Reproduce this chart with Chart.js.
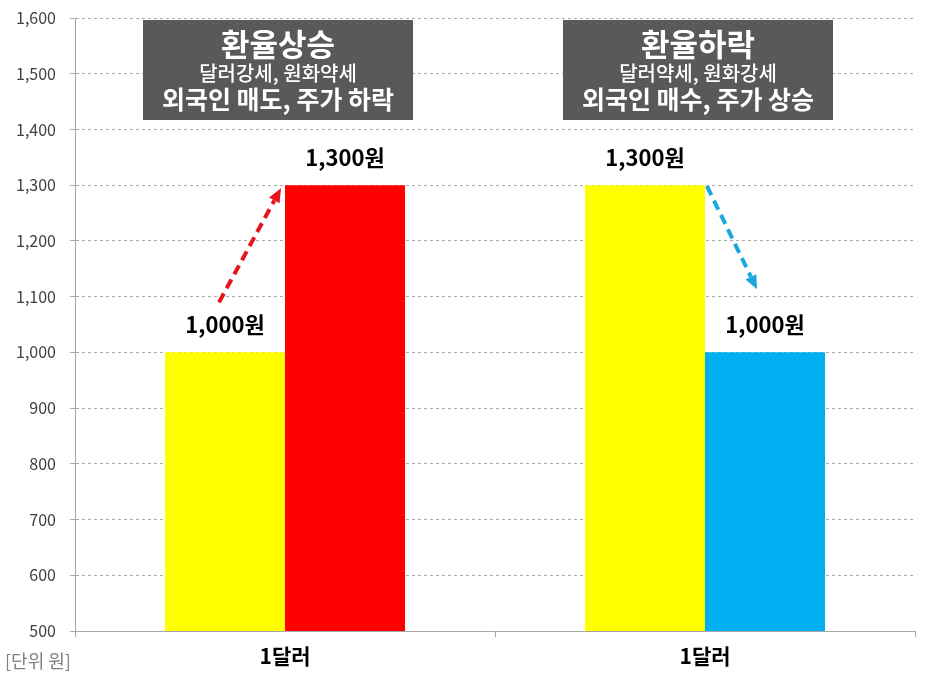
<!DOCTYPE html>
<html>
<head>
<meta charset="utf-8">
<script src="https://cdn.jsdelivr.net/npm/chart.js@4/dist/chart.umd.min.js"></script>
<style>
  body { margin: 0; background: #fff; }
  #wrap { width: 933px; height: 675px; }
</style>
</head>
<body>
<div id="wrap"><canvas id="myChart" width="933" height="675"></canvas></div>
<script>
// data
var categories = ['1달러', '1달러'];
var beforeValues = [1000, 1300];
var afterValues = [1300, 1000];
var afterColors = ['#ff0000', '#00b0f0'];
var yTicks = { min: 500, max: 1600, step: 100 };
var boxTitles = ['환율상승', '환율하락'];
var boxLine2 = ['달러강세, 원화약세', '달러약세, 원화강세'];
var boxLine3 = ['외국인 매도, 주가 하락', '외국인 매수, 주가 상승'];
var unitLabel = '[단위 원]';

var KR = '"Noto Sans CJK KR", "Noto Sans", sans-serif';

function fmt(v) { return v.toLocaleString('en-US'); }

function arrow(ctx, x1, y1, x2, y2, color) {
    var ang = Math.atan2(y2 - y1, x2 - x1);
    var head = 14, half = 6;
    var bx = x2 - head * Math.cos(ang), by = y2 - head * Math.sin(ang);
    ctx.save();
    ctx.strokeStyle = color;
    ctx.fillStyle = color;
    ctx.lineWidth = 4;
    ctx.setLineDash([10, 6]);
    ctx.beginPath();
    ctx.moveTo(x1, y1);
    ctx.lineTo(bx, by);
    ctx.stroke();
    ctx.setLineDash([]);
    ctx.beginPath();
    ctx.moveTo(x2, y2);
    ctx.lineTo(bx + half * Math.sin(ang), by - half * Math.cos(ang));
    ctx.lineTo(bx - half * Math.sin(ang), by + half * Math.cos(ang));
    ctx.closePath();
    ctx.fill();
    ctx.restore();
}

var overlay = {
    id: 'overlay',
    beforeDatasetsDraw: function(chart) {
        // solid y axis line (grid lines are dashed)
        var a = chart.chartArea, c = chart.ctx;
        c.save();
        c.strokeStyle = '#a6a6a6';
        c.lineWidth = 1;
        c.beginPath();
        c.moveTo(a.left + 0.5, a.top);
        c.lineTo(a.left + 0.5, a.bottom);
        c.stroke();
        c.restore();
    },
    afterDatasetsDraw: function(chart) {
        var ctx = chart.ctx;
        var y = chart.scales.y;
        var m0 = chart.getDatasetMeta(0).data;
        var m1 = chart.getDatasetMeta(1).data;

        // arrows
        arrow(ctx, m0[0].x - 6, y.getPixelForValue(beforeValues[0]) - 50,
              m1[0].x - m1[0].width / 2 - 4, m1[0].y + 3, '#e8141c');
        var left = m1[1].x - m1[1].width / 2;
        arrow(ctx, left + 2, m0[1].y + 1, left + 52, m1[1].y - 63, '#1aa7e0');

        // value labels
        ctx.save();
        ctx.fillStyle = '#000';
        ctx.font = 'bold 22px ' + KR;
        ctx.textAlign = 'center';
        ctx.textBaseline = 'middle';
        [m0, m1].forEach(function(meta, ds) {
            var vals = ds === 0 ? beforeValues : afterValues;
            meta.forEach(function(bar, i) {
                ctx.fillText(fmt(vals[i]) + '원', bar.x, bar.y - 28);
            });
        });

        // boxes
        var top = y.getPixelForValue(yTicks.max) + 2;
        for (var i = 0; i < categories.length; i++) {
            var cx = (m0[i].x + m1[i].x) / 2 - 7;
            ctx.fillStyle = '#595959';
            ctx.fillRect(cx - 135, top, 270, 100);
            ctx.fillStyle = '#fff';
            ctx.font = 'bold 31px ' + KR;
            ctx.fillText(boxTitles[i], cx, top + 24);
            ctx.font = '500 20px ' + KR;
            ctx.fillText(boxLine2[i], cx, top + 53);
            ctx.font = 'bold 25px ' + KR;
            ctx.fillText(boxLine3[i], cx, top + 79);
        }

        // unit
        ctx.fillStyle = '#7f7f7f';
        ctx.font = '18px ' + KR;
        ctx.textAlign = 'left';
        ctx.fillText(unitLabel, 5, 661);
        ctx.restore();
    }
};

var ctx = document.getElementById('myChart').getContext('2d');
var myChart = new Chart(ctx, {
    type: 'bar',
    data: {
        labels: categories,
        datasets: [{
            data: beforeValues,
            backgroundColor: '#ffff00'
        }, {
            data: afterValues,
            backgroundColor: afterColors
        }]
    },
    options: {
        responsive: false,
        animation: false,
        layout: { padding: { left: 0, right: 18, top: 18, bottom: 0 } },
        categoryPercentage: 240 / 420,
        barPercentage: 1,
        plugins: {
            legend: { display: false },
            tooltip: { enabled: false }
        },
        scales: {
            x: {
                afterFit: function(s) { s.height = 44; },
                grid: { drawOnChartArea: false, tickLength: 6, color: '#a6a6a6' },
                border: { color: '#a6a6a6' },
                ticks: {
                    color: '#000',
                    padding: 6,
                    font: { family: KR, size: 21, weight: 'bold' }
                }
            },
            y: {
                min: yTicks.min,
                max: yTicks.max,
                afterFit: function(s) {
                    s.width = 75;
                    s.paddingTop = 0;
                    s.paddingBottom = 0;
                },
                grid: { color: '#ababab', tickLength: 5 },
                border: { color: '#a6a6a6', dash: [3, 3] },
                ticks: {
                    stepSize: yTicks.step,
                    color: '#404040',
                    padding: 14,
                    font: { family: KR, size: 16 },
                    callback: function(v) { return fmt(v); }
                }
            }
        }
    },
    plugins: [overlay]
});
</script>
</body>
</html>
